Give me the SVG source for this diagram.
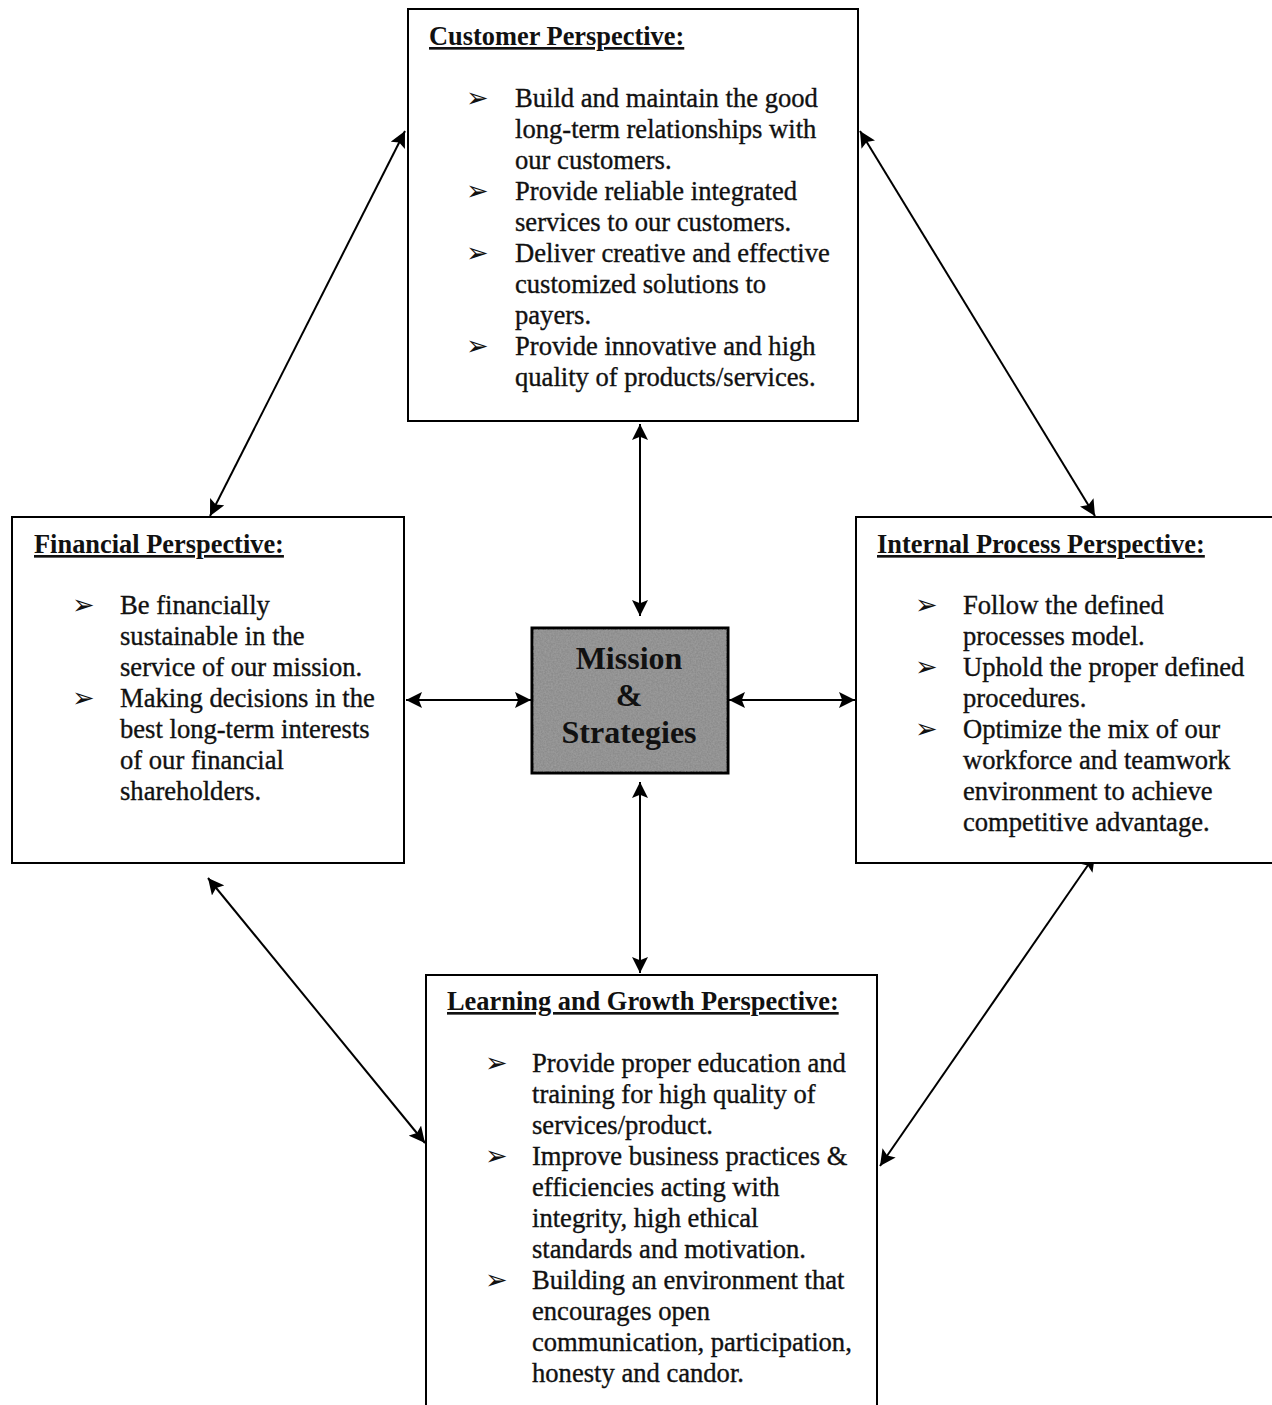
<svg xmlns="http://www.w3.org/2000/svg" width="1272" height="1405" viewBox="0 0 1272 1405">
<style>
.box{fill:#fff;stroke:#000;stroke-width:2}
.t{font-family:"Liberation Serif","Times New Roman",serif;font-size:26.6px;fill:#111;stroke:#111;stroke-width:0.35}
.h{font-family:"Liberation Serif","Times New Roman",serif;font-size:26.4px;font-weight:bold;text-decoration:underline;fill:#111}
.b{font-family:"DejaVu Sans",sans-serif;font-size:27px;fill:#111}
.c{font-family:"Liberation Serif","Times New Roman",serif;font-size:32px;font-weight:bold;fill:#111;text-anchor:middle}
.ln{stroke:#000;stroke-width:2;fill:none;marker-start:url(#ah);marker-end:url(#ah)}
</style>
<defs>
<marker id="ah" viewBox="0 0 10 10" refX="10" refY="5" markerWidth="16" markerHeight="16" orient="auto-start-reverse" markerUnits="userSpaceOnUse">
<path d="M0,0 L10,5 L0,10 L2,5 z" fill="#000"/>
</marker>
<filter id="noise" x="0" y="0" width="100%" height="100%">
<feTurbulence type="fractalNoise" baseFrequency="0.6" numOctaves="2" seed="3" result="n"/>
<feColorMatrix type="matrix" values="0 0 0 0 0.45  0 0 0 0 0.45  0 0 0 0 0.45  0 0 0 1.2 -0.3" in="n" result="m"/>
<feComposite in="m" in2="SourceGraphic" operator="in"/>
</filter>
</defs>

<g id="connectors">
<line class="ln" x1="405" y1="131" x2="210" y2="516"/>
<line class="ln" x1="860" y1="131" x2="1095" y2="516"/>
<line class="ln" x1="640" y1="424" x2="640" y2="616"/>
<line class="ln" x1="406" y1="700" x2="531" y2="700"/>
<line class="ln" x1="729" y1="700" x2="855" y2="700"/>
<line class="ln" x1="640" y1="782" x2="640" y2="973"/>
<line class="ln" x1="208" y1="878" x2="425" y2="1143"/>
<line class="ln" x1="1095" y1="855" x2="880" y2="1166"/>
</g>

<g id="customer">
<rect class="box" x="408" y="9" width="450" height="412"/>
<text class="h" x="429" y="45">Customer Perspective:</text>
<text class="b" x="466" y="107">➢</text>
<text class="b" x="466" y="200">➢</text>
<text class="b" x="466" y="262">➢</text>
<text class="b" x="466" y="355">➢</text>
<text class="t" x="515" y="107">Build and maintain the good</text>
<text class="t" x="515" y="138">long-term relationships with</text>
<text class="t" x="515" y="169">our customers.</text>
<text class="t" x="515" y="200">Provide reliable integrated</text>
<text class="t" x="515" y="231">services to our customers.</text>
<text class="t" x="515" y="262">Deliver creative and effective</text>
<text class="t" x="515" y="293">customized solutions to</text>
<text class="t" x="515" y="324">payers.</text>
<text class="t" x="515" y="355">Provide innovative and high</text>
<text class="t" x="515" y="386">quality of products/services.</text>
</g>

<g id="financial">
<rect class="box" x="12" y="517" width="392" height="346"/>
<text class="h" x="34" y="553">Financial Perspective:</text>
<text class="b" x="72" y="614">➢</text>
<text class="b" x="72" y="707">➢</text>
<text class="t" x="120" y="614">Be financially</text>
<text class="t" x="120" y="645">sustainable in the</text>
<text class="t" x="120" y="676">service of our mission.</text>
<text class="t" x="120" y="707">Making decisions in the</text>
<text class="t" x="120" y="738">best long-term interests</text>
<text class="t" x="120" y="769">of our financial</text>
<text class="t" x="120" y="800">shareholders.</text>
</g>

<g id="internal">
<rect class="box" x="856" y="517" width="420" height="346"/>
<text class="h" x="877" y="553">Internal Process Perspective:</text>
<text class="b" x="915" y="614">➢</text>
<text class="b" x="915" y="676">➢</text>
<text class="b" x="915" y="738">➢</text>
<text class="t" x="963" y="614">Follow the defined</text>
<text class="t" x="963" y="645">processes model.</text>
<text class="t" x="963" y="676">Uphold the proper defined</text>
<text class="t" x="963" y="707">procedures.</text>
<text class="t" x="963" y="738">Optimize the mix of our</text>
<text class="t" x="963" y="769">workforce and teamwork</text>
<text class="t" x="963" y="800">environment to achieve</text>
<text class="t" x="963" y="831">competitive advantage.</text>
</g>

<g id="learning">
<rect class="box" x="426" y="975" width="451" height="440"/>
<text class="h" x="447" y="1010">Learning and Growth Perspective:</text>
<text class="b" x="485" y="1072">➢</text>
<text class="b" x="485" y="1165">➢</text>
<text class="b" x="485" y="1289">➢</text>
<text class="t" x="532" y="1072">Provide proper education and</text>
<text class="t" x="532" y="1103">training for high quality of</text>
<text class="t" x="532" y="1134">services/product.</text>
<text class="t" x="532" y="1165">Improve business practices &amp;</text>
<text class="t" x="532" y="1196">efficiencies acting with</text>
<text class="t" x="532" y="1227">integrity, high ethical</text>
<text class="t" x="532" y="1258">standards and motivation.</text>
<text class="t" x="532" y="1289">Building an environment that</text>
<text class="t" x="532" y="1320">encourages open</text>
<text class="t" x="532" y="1351">communication, participation,</text>
<text class="t" x="532" y="1382">honesty and candor.</text>
</g>

<g id="center">
<rect x="532" y="628" width="196" height="145" fill="#8c8c8c" stroke="#000" stroke-width="3"/>
<rect x="533" y="629" width="194" height="143" fill="#000" filter="url(#noise)" opacity="0.6"/>
<text class="c" x="629" y="669">Mission</text>
<text class="c" x="629" y="706">&amp;</text>
<text class="c" x="629" y="743">Strategies</text>
</g>
</svg>
